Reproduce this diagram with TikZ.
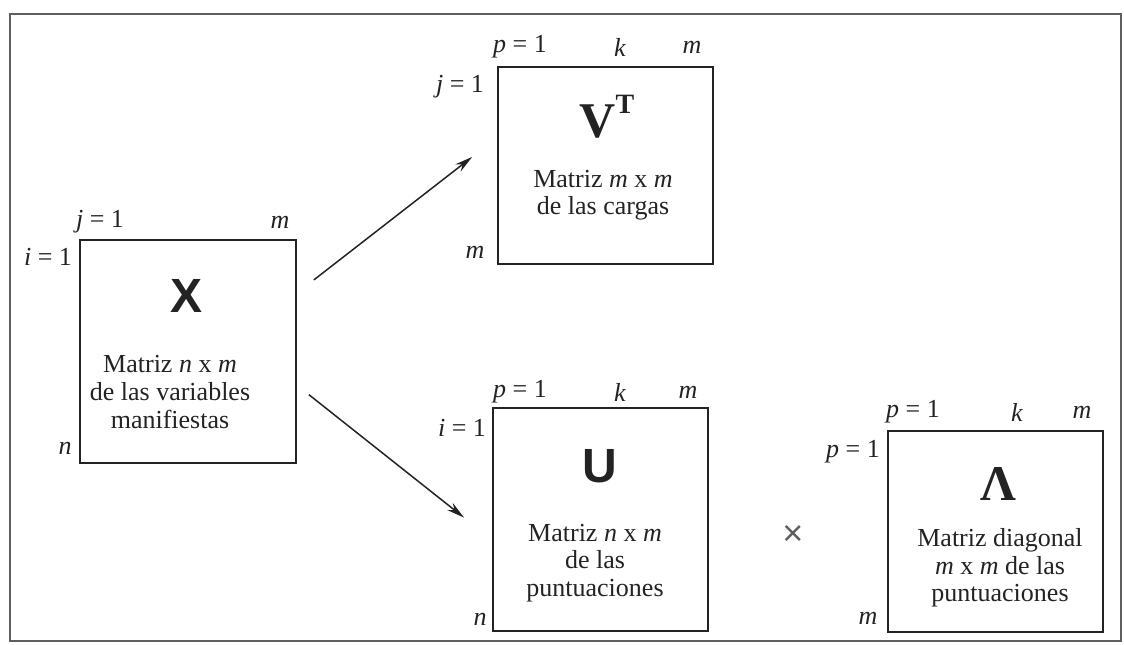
\documentclass[tikz,border=0pt]{standalone}
\usepackage{fontspec}
\setmainfont{Liberation Serif}
\newfontfamily\sansfam{Liberation Sans}
\usepackage{tikz}
\usetikzlibrary{arrows.meta, calc}
\definecolor{mydark}{RGB}{35,35,35}
\definecolor{mygray}{RGB}{95,95,95}
\tikzset{
  matbox/.style={rectangle, draw=mydark, line width=1pt,
    minimum width=107.5pt, inner sep=0pt},
  idxlabel/.style={font=\fontsize{13}{14}\selectfont, text=mydark, inner sep=0pt},
  desc/.style={align=center, font=\fontsize{13}{13.8}\selectfont,
    text=mydark, inner sep=0pt},
  sanstitle/.style={font=\fontsize{24}{24}\selectfont\sansfam\bfseries,
    text=mydark, inner sep=0pt, anchor=base},
  seriftitle/.style={font=\fontsize{25}{25}\selectfont\bfseries,
    text=mydark, inner sep=0pt, anchor=base},
  arrow/.style={-{Stealth[length=9pt, width=4.5pt]}, line width=0.75pt, color=mydark}
}

\begin{document}
\begin{tikzpicture}[x=0.5pt, y=-0.5pt]
  \useasboundingbox (0,0) rectangle (1124,644);
  \draw[line width=1.2pt, mygray] (10,14) rectangle (1121,641);

  % the four matrices
  \node[matbox, minimum width=108pt, minimum height=111.5pt] (matX) at (188,351.5) {};
  \node[matbox, minimum height=98.5pt] (matV) at (605.5,165.5) {};
  \node[matbox, minimum height=111.5pt] (matU) at (600.5,519.5) {};
  \node[matbox, minimum height=100.5pt] (matL) at (995.5,531.5) {};

  \node[sanstitle] (titX) at (187,312) {X};
  \node[seriftitle] (titV) at (607,137) {V\raisebox{12pt}{\fontsize{14}{14}\selectfont T}};
  \node[sanstitle] (titU) at (600,482) {U};
  \node[seriftitle] (titL) at (998,500) {Λ};

  \node[desc] (descX) at (170,392) {Matriz \textit{n} x \textit{m}\\de las variables\\manifiestas};
  \node[desc] (descV) at (603,195) {Matriz \textit{m} x \textit{m}\\de las cargas};
  \node[desc] (descU) at (595,563) {Matriz \textit{n} x \textit{m}\\de las\\puntuaciones};
  \node[desc] (descL) at (1000,568) {Matriz diagonal\\\textit{m} x \textit{m} de las\\puntuaciones};

  % index labels
  \node[idxlabel] (xj) at (100,222) {\textit{j} = 1};
  \node[idxlabel] (xm) at (280,222) {\textit{m}};
  \node[idxlabel] (xi) at (48,257) {\textit{i} = 1};
  \node[idxlabel] (xn) at (65,448) {\textit{n}};
  \foreach \nm/\x/\y in {v/520/47, u/520/392, l/913/412}
    \node[idxlabel] (\nm p) at (\x,\y) {\textit{p} = 1};
  \foreach \nm/\x/\y in {v/620/47, u/620/392, l/1017/412}
    \node[idxlabel] (\nm k) at (\x,\y) {\textit{k}};
  \foreach \nm/\x/\y in {v/692/47, u/688/392, l/1082/412, vb/475/252, lb/868/618}
    \node[idxlabel] (\nm m) at (\x,\y) {\textit{m}};
  \node[idxlabel] (vj) at (460,87) {\textit{j} = 1};
  \node[idxlabel] (ui) at (462,428) {\textit{i} = 1};
  \node[idxlabel] (un) at (480,619) {\textit{n}};
  \node[idxlabel] (lp) at (853,452) {\textit{p} = 1};

  \node[font=\fontsize{18}{18}\selectfont\sansfam, text=mygray, inner sep=0pt] (times) at (793,535) {×};

  \draw[arrow, shorten <=10.7pt, shorten >=15.7pt]
    ($(matX.north east)!0.24!(matX.south east)$) -- ($(matV.north west)!0.36!(matV.south west)$);
  \draw[arrow, shorten <=7.6pt, shorten >=17.8pt]
    ($(matX.north east)!0.65!(matX.south east)$) -- ($(matU.north west)!0.59!(matU.south west)$);
\end{tikzpicture}
\end{document}
